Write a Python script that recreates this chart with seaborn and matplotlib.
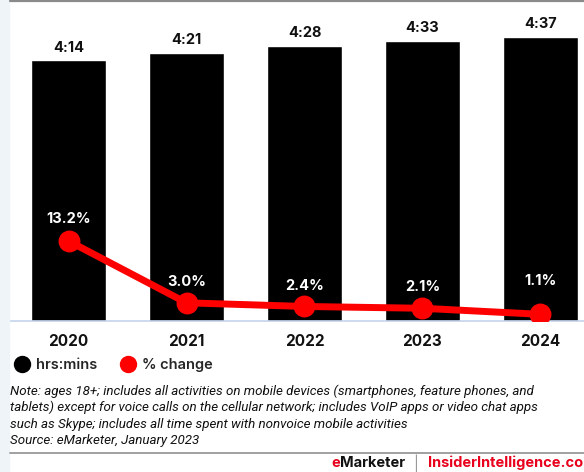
import matplotlib
matplotlib.use("Agg")
import matplotlib.pyplot as plt
import seaborn as sns
import pandas as pd
from matplotlib.lines import Line2D
from matplotlib.patches import Rectangle

years = ["2020", "2021", "2022", "2023", "2024"]
minutes = [254, 261, 268, 273, 277]
time_labels = ["4:14", "4:21", "4:28", "4:33", "4:37"]
pct_change = [13.2, 3.0, 2.4, 2.1, 1.1]
pct_labels = ["13.2%", "3.0%", "2.4%", "2.1%", "1.1%"]

df = pd.DataFrame({"year": years, "minutes": minutes, "pct": pct_change})

sns.set_theme(style="white")
FONT = "Inter"
plt.rcParams["font.family"] = [FONT, "DejaVu Sans"]

W, H = 584, 472
fig = plt.figure(figsize=(W / 100, H / 100), dpi=100)

def fx(px):
    return px / W

def fy(py):
    return 1 - py / H

# background decorations
fig.patches.append(Rectangle((0, 0), fx(9), 1, transform=fig.transFigure,
                             color="#eef4f8", zorder=0))
fig.lines.append(Line2D([fx(10), 1], [fy(1), fy(1)], transform=fig.transFigure,
                        color="#8a8a8a", lw=1.6))
fig.lines.append(Line2D([fx(10), 1], [fy(452.5), fy(452.5)], transform=fig.transFigure,
                        color="#a0a0a0", lw=1.4))

top, base = 13, 321
ax = fig.add_axes([fx(10), fy(base), fx(W - 10), (base - top) / H])
sns.barplot(data=df, x="year", y="minutes", color="black", width=0.636,
            saturation=1, ax=ax, zorder=2)
ax.set_ylim(0, (base - top) / 1.027)
ax.set_xlim(-0.496, 4.369)
for sp in ["top", "right", "left"]:
    ax.spines[sp].set_visible(False)
ax.spines["bottom"].set_color("#c5d3ea")
ax.spines["bottom"].set_linewidth(1.2)
ax.set_yticks([])
ax.set_xlabel("")
ax.set_ylabel("")
ax.tick_params(axis="x", length=0, pad=9, labelsize=11)
for t in ax.get_xticklabels():
    t.set_fontweight("bold")
    t.set_color("#111111")

for i, (v, lab) in enumerate(zip(minutes, time_labels)):
    ax.annotate(lab, (i, v), xytext=(0, 9), textcoords="offset points",
                ha="center", va="center", fontsize=10.5, fontweight="bold",
                color="#111111")

ax2 = ax.twinx()
sns.pointplot(data=df, x="year", y="pct", color="#ff0000", ax=ax2,
              markers="o", linestyles="-", markersize=12, linewidth=5)
ax2.set_ylim(0, (base - top) / 6.06)
ax2.set_xlim(-0.496, 4.369)
ax2.set_yticks([])
ax2.set_ylabel("")
ax2.set_xlabel("")
for sp in ax2.spines.values():
    sp.set_visible(False)

offsets = [16, 15, 15, 15.5, 24]
for i, (v, lab) in enumerate(zip(pct_change, pct_labels)):
    ax2.annotate(lab, (i, v), xytext=(0, offsets[i]), textcoords="offset points",
                 ha="center", va="center", fontsize=10.5, fontweight="bold",
                 color="white")

# legend
handles = [
    Line2D([], [], marker="o", color="black", ls="none", markersize=11.5),
    Line2D([], [], marker="o", color="#ff0000", ls="none", markersize=11.5),
]
leg = fig.legend(handles, ["hrs:mins", "% change"], loc="center left",
                 bbox_to_anchor=(fx(14), fy(365)), frameon=False, ncol=2,
                 borderaxespad=0, borderpad=0,
                 handletextpad=0.4, columnspacing=1.6, handlelength=1.1,
                 prop={"family": FONT, "size": 10.5, "weight": "semibold"})

note_lines = [
    "Note: ages 18+; includes all activities on mobile devices (smartphones, feature phones, and",
    "tablets) except for voice calls on the cellular network; includes VoIP apps or video chat apps",
    "such as Skype; includes all time spent with nonvoice mobile activities",
    "Source: eMarketer, January 2023",
]
for k, line in enumerate(note_lines):
    fig.text(fx(10), fy(391 + 16.6 * k), line, ha="left", va="center",
             fontsize=9.6, style="italic", family=["Roboto", "DejaVu Sans"],
             color="#111111")

fig.text(fx(331), fy(463), "e", color="#e8001c", fontsize=10.5,
         fontweight="bold", ha="left", va="center")
fig.text(fx(340), fy(463), "Marketer", color="#111111", fontsize=10.5,
         fontweight="bold", ha="left", va="center")
fig.text(fx(416), fy(463), "|", color="#999999", fontsize=10.5,
         ha="center", va="center")
fig.text(fx(428), fy(463), "InsiderIntelligence.com", color="#e8001c",
         fontsize=10.5, fontweight="bold", ha="left", va="center")

fig.savefig("out.png", dpi=100)
